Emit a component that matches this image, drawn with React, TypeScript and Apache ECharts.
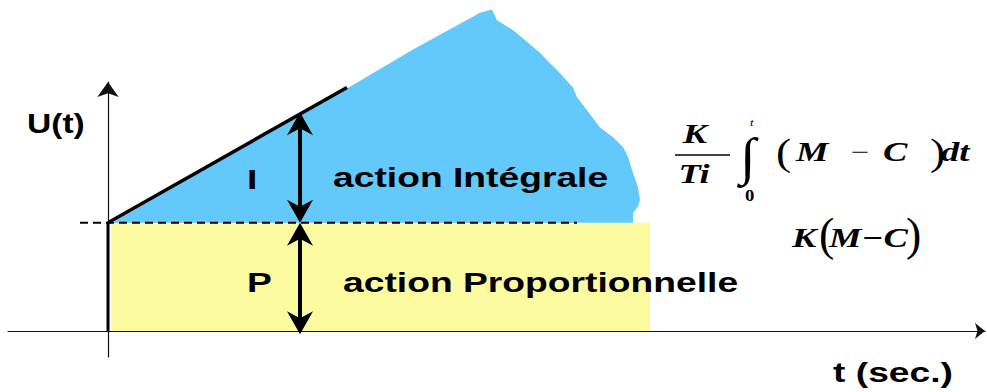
import React, { useEffect, useRef } from "react";
import * as echarts from "echarts";

// ---- data (t in "seconds", U in units of the proportional action) ----
const P_LEVEL = 1;
const yellowT = [0.03, 5.42];
const yellowU = [0, P_LEVEL];
const blueT = [0.04, 2.39, 3.05, 3.72, 3.84, 3.89, 4.05, 4.32, 4.39, 4.49, 4.65, 4.69, 4.79, 4.92, 5.05, 5.15, 5.2, 5.25, 5.3, 5.32, 5.3, 5.25, 5.25];
const blueU = [1, 2.24, 2.6, 2.94, 2.97, 2.87, 2.78, 2.57, 2.5, 2.41, 2.25, 2.16, 2.04, 1.88, 1.79, 1.7, 1.61, 1.46, 1.33, 1.21, 1.15, 1.09, 1.0];
const stepT = [0, 0];
const stepU = [0, P_LEVEL];
const rampT = [0, 2.39];
const rampU = [P_LEVEL, 2.25];
const dashT = [-0.28, 4.69];
const dashU = [P_LEVEL, P_LEVEL];
const arrowT = [1.92, 1.92];
const arrowLow = [P_LEVEL, -0.03];
const arrowHigh = [2.02, P_LEVEL];

const BLUE = "#63C9FB";
const YELLOW = "#FCFA9E";

const SANS = 'bold 28px "Liberation Sans", Arial, sans-serif';
const SERIF_BI = 'italic bold 27px "Liberation Serif", "Times New Roman", serif';
const SERIF_R = (s: number) => `normal ${s}px "Liberation Serif", "Times New Roman", serif`;

function txt(text: string, x: number, y: number, font: string, scaleX: number, align: string = "left") {
  return {
    type: "text",
    x,
    y,
    scaleX,
    z: 100,
    silent: true,
    style: {
      text,
      font,
      fill: "#000",
      textAlign: align,
      textVerticalAlign: "middle",
      align,
      verticalAlign: "middle",
    },
  };
}

export default function App() {
  const ref = useRef<HTMLDivElement>(null);
  useEffect(() => {
    const chart = echarts.init(ref.current!, null, { renderer: "svg" });
    const option: any = {
      animation: false,
      backgroundColor: "#fff",
      grid: { left: 8, right: 2, top: 82, bottom: 35 },
      xAxis: {
        type: "value",
        min: -1,
        max: 8.77,
        axisLine: {
          show: true,
          onZero: true,
          symbol: ["none", "arrow"],
          symbolSize: [12, 10],
          lineStyle: { color: "#111", width: 1.2 },
        },
        axisTick: { show: false },
        axisLabel: { show: false },
        splitLine: { show: false },
      },
      yAxis: {
        type: "value",
        min: -0.24,
        max: 2.3,
        axisLine: {
          show: true,
          onZero: true,
          symbol: ["none", "arrow"],
          symbolSize: [16, 15],
          lineStyle: { color: "#111", width: 1.2 },
        },
        axisTick: { show: false },
        axisLabel: { show: false },
        splitLine: { show: false },
      },
      series: [
        {
          type: "custom",
          silent: true,
          z: 1,
          data: [[0, 0]],
          renderItem: (_p: any, api: any) => {
            const a = api.coord([yellowT[0], yellowU[1]]);
            const b = api.coord([yellowT[1], yellowU[0]]);
            return {
              type: "rect",
              shape: { x: a[0], y: a[1], width: b[0] - a[0], height: b[1] - a[1] },
              style: { fill: YELLOW },
            };
          },
        },
        {
          type: "custom",
          silent: true,
          z: 2,
          clip: false,
          data: [[0, 0]],
          renderItem: (_p: any, api: any) => ({
            type: "polygon",
            shape: { points: blueT.map((t, i) => api.coord([t, blueU[i]])) },
            style: { fill: BLUE },
          }),
        },
        {
          type: "line",
          silent: true,
          z: 5,
          symbol: "none",
          data: dashT.map((t, i) => [t, dashU[i]]),
          lineStyle: { color: "#000", width: 1.8, type: [8, 5] },
        },
        {
          type: "line",
          silent: true,
          z: 6,
          symbol: "none",
          data: stepT.map((t, i) => [t, stepU[i]]),
          lineStyle: { color: "#000", width: 3 },
        },
        {
          type: "line",
          silent: true,
          z: 6,
          symbol: "none",
          data: rampT.map((t, i) => [t, rampU[i]]),
          lineStyle: { color: "#000", width: 3.5 },
        },
        {
          type: "custom",
          silent: true,
          z: 7,
          clip: false,
          data: arrowT.map((t, i) => [t, arrowLow[i], arrowHigh[i]]),
          encode: { x: 0, y: [1, 2] },
          renderItem: (_p: any, api: any) => {
            const lo = api.coord([api.value(0), api.value(1)]);
            const hi = api.coord([api.value(0), api.value(2)]);
            const x = lo[0];
            const hw = 13, hl = 23, notch = 16;
            return {
              type: "group",
              children: [
                {
                  type: "line",
                  shape: { x1: x, y1: hi[1] + notch, x2: x, y2: lo[1] - notch },
                  style: { stroke: "#000", lineWidth: 4 },
                },
                {
                  type: "polygon",
                  shape: {
                    points: [
                      [x, hi[1]],
                      [x + hw, hi[1] + hl],
                      [x, hi[1] + notch],
                      [x - hw, hi[1] + hl],
                    ],
                  },
                  style: { fill: "#000" },
                },
                {
                  type: "polygon",
                  shape: {
                    points: [
                      [x, lo[1]],
                      [x + hw, lo[1] - hl],
                      [x, lo[1] - notch],
                      [x - hw, lo[1] - hl],
                    ],
                  },
                  style: { fill: "#000" },
                },
              ],
            };
          },
        },
      ],
      graphic: [
        txt("U(t)", 27, 123, SANS, 1.2),
        txt("I", 247, 179, SANS, 1.33),
        txt("action Intégrale", 333, 177, SANS, 1.33),
        txt("P", 247, 282, SANS, 1.33),
        txt("action Proportionnelle", 343, 282, SANS, 1.33),
        txt("t (sec.)", 833, 372, SANS, 1.33),
        // formula: K/Ti ∫0^t (M − C) dt
        txt("K", 695, 134, SERIF_BI, 1.35, "center"),
        {
          type: "line",
          z: 100,
          silent: true,
          shape: { x1: 675, y1: 155, x2: 730, y2: 155 },
          style: { stroke: "#000", lineWidth: 1.5 },
        },
        txt("Ti", 694, 174, SERIF_BI, 1.35, "center"),
        txt("∫", 740, 156, 'bold 52px "Liberation Serif", serif', 1.1),
        txt("t", 750, 122, 'italic 11px "Liberation Serif", serif', 1.2),
        txt("0", 745, 195, 'bold 17px "Liberation Serif", serif', 1.1),
        txt("(", 776, 152, SERIF_R(38), 1.2),
        txt("M", 796, 152, SERIF_BI, 1.35),
        txt("−", 851, 152, SERIF_R(24), 1.35),
        txt("C", 883, 152, SERIF_BI, 1.35),
        txt(")", 930, 152, SERIF_R(38), 1.2),
        txt("dt", 941, 152, SERIF_BI, 1.35),
        // K(M−C)
        txt("K", 792, 238, SERIF_BI, 1.35),
        txt("(", 819, 234, SERIF_R(46), 1.0),
        txt("M−C", 829, 238, SERIF_BI, 1.35),
        txt(")", 906, 234, SERIF_R(46), 1.0),
      ],
    };
    chart.setOption(option);
    return () => chart.dispose();
  }, []);
  return (
    <div
      ref={ref}
      style={{ position: "fixed", left: 0, top: 0, width: 987, height: 392, background: "#fff" }}
    />
  );
}
